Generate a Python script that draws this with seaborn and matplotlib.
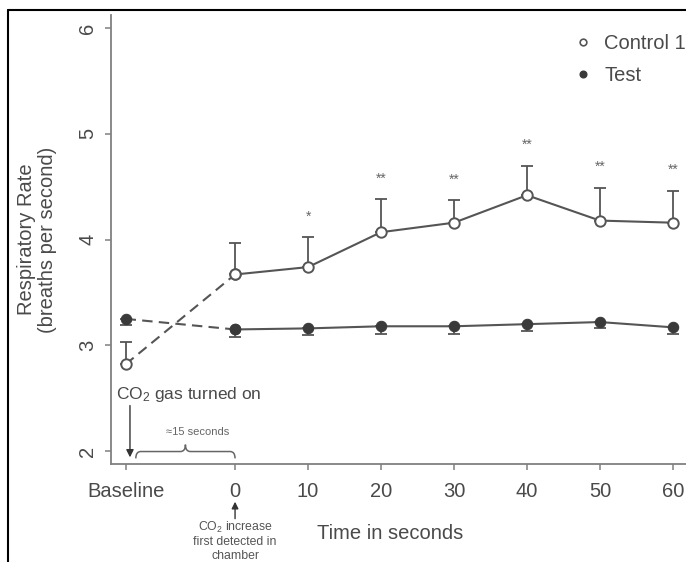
import numpy as np
import pandas as pd
import matplotlib
matplotlib.use("Agg")
import matplotlib.pyplot as plt
from matplotlib.lines import Line2D
from matplotlib.path import Path
from matplotlib.patches import PathPatch
import seaborn as sns

# ---- data -------------------------------------------------------------
times = [-15, 0, 10, 20, 30, 40, 50, 60]
tick_labels = ["Baseline", "0", "10", "20", "30", "40", "50", "60"]

control_mean = [2.82, 3.67, 3.74, 4.07, 4.16, 4.42, 4.18, 4.16]
control_err = [0.21, 0.30, 0.28, 0.31, 0.21, 0.28, 0.31, 0.30]

test_mean = [3.25, 3.15, 3.16, 3.18, 3.18, 3.20, 3.22, 3.17]
test_err = [0.06, 0.07, 0.06, 0.07, 0.07, 0.06, 0.06, 0.06]

significance = ["", "", "*", "**", "**", "**", "**", "**"]

# ---- style ------------------------------------------------------------
sns.set_theme(style="ticks")
plt.rcParams["font.family"] = ["Liberation Sans", "DejaVu Sans"]
plt.rcParams["mathtext.default"] = "regular"

TXT = "#4a4a4a"
LINE = "#555555"
SPINE = "#808080"

fig = plt.figure(figsize=(6.86, 5.62), dpi=100)
ax = fig.add_axes([111 / 686, 98 / 562, 1 - 111 / 686, (464 - 15) / 562])

df = pd.DataFrame({"time": times, "control": control_mean, "test": test_mean})
solid = df[df["time"] >= 0]
dashed = df[df["time"] <= 0]

# error bars (control upward, test downward)
zeros = np.zeros(len(times))
ax.errorbar(times, control_mean, yerr=[zeros, control_err], fmt="none",
            ecolor=LINE, elinewidth=1.3, capsize=4.3, capthick=1.3, zorder=2)
ax.errorbar(times, test_mean, yerr=[test_err, zeros], fmt="none",
            ecolor=LINE, elinewidth=1.3, capsize=4.3, capthick=1.3, zorder=2)

# dashed segments from baseline to time 0
sns.lineplot(data=dashed, x="time", y="control", ax=ax, color=LINE, lw=1.5,
             linestyle=(0, (5, 3)), marker="o", markersize=7.5,
             markerfacecolor="white", markeredgecolor=LINE, markeredgewidth=1.4,
             zorder=3)
sns.lineplot(data=dashed, x="time", y="test", ax=ax, color=LINE, lw=1.5,
             linestyle=(0, (5, 3)), marker="o", markersize=7.5,
             markerfacecolor="#3a3a3a", markeredgecolor="#3a3a3a", zorder=3)

# solid segments over the measurement period
sns.lineplot(data=solid, x="time", y="control", ax=ax, color=LINE, lw=1.5,
             marker="o", markersize=7.5, markerfacecolor="white",
             markeredgecolor=LINE, markeredgewidth=1.4, zorder=4)
sns.lineplot(data=solid, x="time", y="test", ax=ax, color=LINE, lw=1.5,
             marker="o", markersize=7.5, markerfacecolor="#3a3a3a",
             markeredgecolor="#3a3a3a", zorder=4)

# significance markers above the control error bars
for t, m, e, s in zip(times, control_mean, control_err, significance):
    if s:
        ax.text(t, m + e + 0.13, s, ha="center", va="bottom", fontsize=10,
                color="#666666")

# ---- axes -------------------------------------------------------------
ax.set_xlim(-17, 61.8)
ax.set_ylim(1.877, 6.125)
ax.set_xticks(times)
ax.set_xticklabels(tick_labels)
ax.set_yticks([2, 3, 4, 5, 6])
ax.tick_params(axis="both", labelsize=14.5, labelcolor=TXT, color=SPINE,
               length=4, width=1.1)
ax.tick_params(axis="x", pad=9)
ax.tick_params(axis="y", labelrotation=90, pad=6)
for lab in ax.get_yticklabels():
    lab.set_va("center")
for side in ("top", "right"):
    ax.spines[side].set_visible(False)
for side in ("left", "bottom"):
    ax.spines[side].set_color(SPINE)
    ax.spines[side].set_linewidth(1.3)

ax.set_xlabel("Time in seconds", fontsize=14.5, color=TXT)
ax.xaxis.set_label_coords(0.485, -0.134)
ax.set_ylabel("Respiratory Rate\n(breaths per second)", fontsize=14.5,
              color=TXT, linespacing=1.15)
ax.yaxis.set_label_coords(-0.094, 0.5)

# ---- legend -----------------------------------------------------------
handles = [
    Line2D([], [], linestyle="none", marker="o", markersize=4.8,
           markerfacecolor="white", markeredgecolor=LINE, markeredgewidth=1.2),
    Line2D([], [], linestyle="none", marker="o", markersize=4.8,
           markerfacecolor="#3a3a3a", markeredgecolor="#3a3a3a"),
]
ax.legend(handles, ["Control 1", "Test"], loc="upper left",
          bbox_to_anchor=(577 / 686, 1 - 34 / 562),
          bbox_transform=fig.transFigure, frameon=False, fontsize=14.5,
          labelcolor=TXT, handlelength=0.6, handletextpad=0.75,
          labelspacing=0.65, borderpad=0, borderaxespad=0)

# ---- annotations ------------------------------------------------------
ax.text(-16.3, 2.53, "CO$_2$ gas turned on", fontsize=12.5, color=TXT,
        ha="left", va="center")
ax.annotate("", xy=(-14.4, 1.94), xytext=(-14.4, 2.43),
            arrowprops=dict(arrowstyle="-|>", color="#333333", lw=1.0,
                            mutation_scale=11, shrinkA=0, shrinkB=0))


def curly_brace(ax, x0, x1, y, h, color):
    """Upward-pointing curly brace between x0 and x1 with its ends at y."""
    xm = (x0 + x1) / 2
    q = (x1 - x0) * 0.05
    yb = y + h * 0.5
    verts = [
        (x0, y),
        (x0, yb), (x0 + q, yb),
        (xm - q, yb),
        (xm, yb), (xm, y + h),
        (xm, yb), (xm + q, yb),
        (x1 - q, yb),
        (x1, yb), (x1, y),
    ]
    codes = [Path.MOVETO,
             Path.CURVE3, Path.CURVE3,
             Path.LINETO,
             Path.CURVE3, Path.CURVE3,
             Path.CURVE3, Path.CURVE3,
             Path.LINETO,
             Path.CURVE3, Path.CURVE3]
    ax.add_patch(PathPatch(Path(verts, codes), facecolor="none",
                           edgecolor=color, lw=1.1))


curly_brace(ax, -13.6, 0, 1.93, 0.13, "#666666")
ax.text(-5.1, 2.18, "≈15 seconds", fontsize=8, color="#666666",
        ha="center", va="center")

ax.annotate("", xy=(0, 1.52), xytext=(0, 1.36), xycoords="data",
            annotation_clip=False,
            arrowprops=dict(arrowstyle="-|>", color="#333333", lw=1.0,
                            mutation_scale=10, shrinkA=0, shrinkB=0))
ax.text(0, 1.35, "CO$_2$ increase\nfirst detected in\nchamber", fontsize=8.8,
        color="#555555", ha="center", va="top", linespacing=1.15, clip_on=False)

# outer frame along the top and left edges
fig.add_artist(Line2D([8 / 686, 8 / 686], [0, 1 - 10 / 562],
                      transform=fig.transFigure, color="black", lw=1.5))
fig.add_artist(Line2D([8 / 686, 1], [1 - 10 / 562, 1 - 10 / 562],
                      transform=fig.transFigure, color="black", lw=1.5))

fig.savefig("out.png", dpi=100)
